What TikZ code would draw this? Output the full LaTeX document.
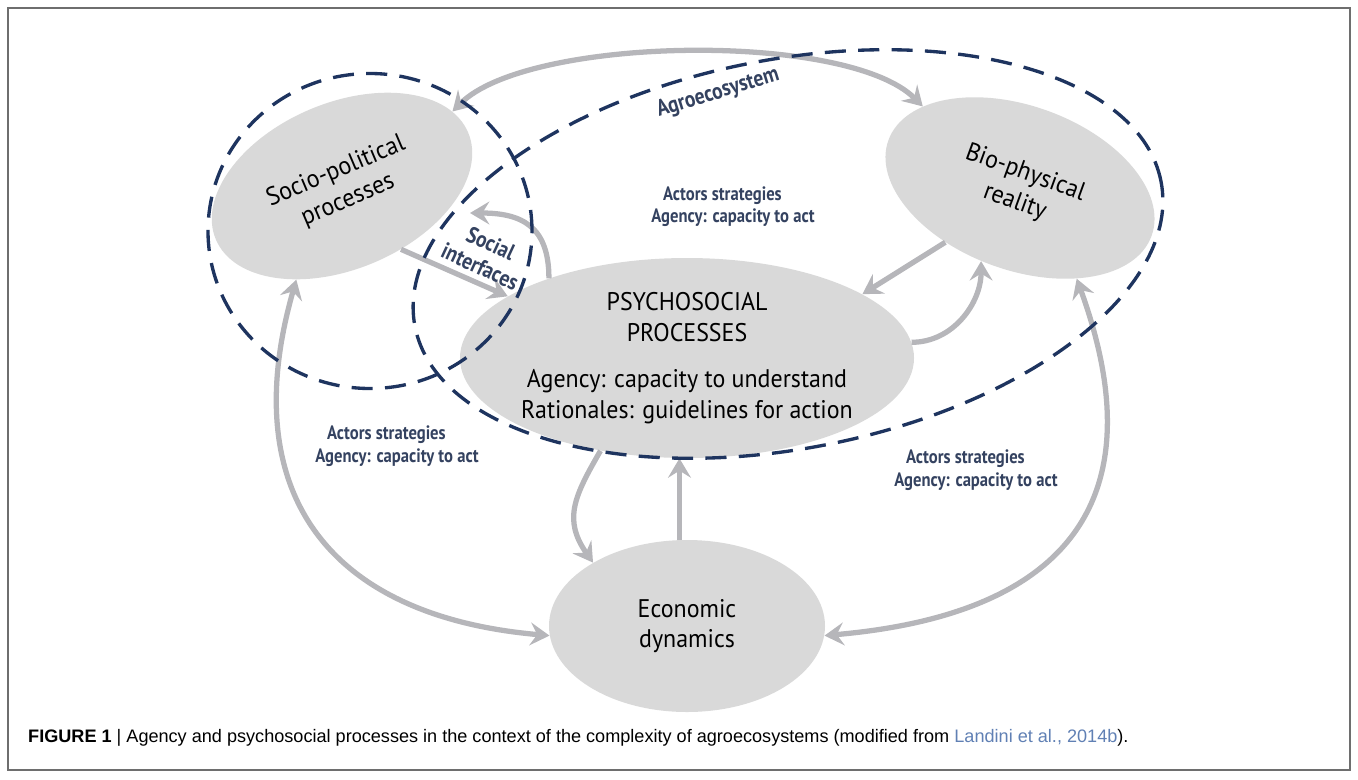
\documentclass[tikz,border=0pt]{standalone}
\usepackage{fontspec}
\setmainfont{Liberation Sans}
\newfontfamily\procfont[FakeStretch=0.94]{PT Sans}
\newfontfamily\notefont[FakeStretch=0.86]{PT Sans}
\newfontfamily\capfont{Liberation Sans}
\usetikzlibrary{arrows.meta,shapes.geometric}

\definecolor{areagray}{RGB}{217,217,217}
\definecolor{flowgray}{RGB}{182,182,186}
\definecolor{ringblue}{RGB}{30,52,95}
\definecolor{noteblue}{RGB}{52,66,96}
\definecolor{citeblue}{RGB}{96,128,180}
\definecolor{framegray}{RGB}{110,110,110}

\begin{document}
\begin{tikzpicture}[
        > = {Stealth[length=11pt, width=13pt, inset=4pt]}, % arrow head style
        node distance = 2cm, % distance between nodes
        auto
      ]

      \tikzstyle{proc}=[ellipse, fill=areagray, inner sep=0pt, align=center,
        font=\procfont\fontsize{14.5}{17.5}\selectfont]
      \tikzstyle{fence}=[ellipse, draw=ringblue, line width=1.9pt,
        dash pattern=on 12pt off 7pt]
      \tikzstyle{flow}=[->, draw=flowgray, line width=3pt]
      \tikzstyle{note}=[text=noteblue, align=center,
        font=\notefont\bfseries\fontsize{11}{12.8}\selectfont]

      \useasboundingbox (0,0) rectangle (27.16,-15.58);
      \draw[framegray, line width=0.6pt] (0.16,-0.16) rectangle (27.0,-15.4);

      % the four processes
      \node[proc, inner xsep=-3pt, minimum width=9cm, minimum height=4cm] (psy) at (13.74,-7.16)
        {PSYCHOSOCIAL\\PROCESSES\\[9pt]Agency: capacity to understand\\Rationales: guidelines for action};
      \node[proc, minimum width=5.52cm, minimum height=3.44cm] (econ) [below of=psy, node distance=5.36cm]
        {Economic\\dynamics};
      \node[proc, rotate=23, minimum width=5.48cm, minimum height=3.32cm] (socio) at (6.84,-3.72)
        {Socio-political\\processes};
      \node[proc, rotate=-20, minimum width=5.6cm, minimum height=3.28cm] (bio) at (20.4,-3.76)
        {Bio-physical\\reality};

      \coordinate (sitip) at (9.4,-4.26);

      % arrows
      \draw[flow, <->] (socio.11) to[out=45, in=135, looseness=0.58] (bio.160);
      \draw[flow] (socio.-70) -- (psy.161);
      \draw[flow] (psy.150) to[out=90, in=0, looseness=1.3] (sitip);
      \draw[flow] (bio.236) -- (psy.20);
      \draw[flow] (psy.4) to[out=0, in=-90] (bio.262);
      \draw[flow, <->] (econ.-4) to[out=5, in=-70, looseness=1.4] (bio.-38);
      \draw[flow, <->] (econ.184) to[out=175, in=-106, looseness=1.3] (socio.221);
      \draw[flow] (psy.227) to[out=240, in=125, looseness=1.2] (econ.146);
      \draw[flow] (econ.95) -- (econ.95 |- psy.south);

      % dashed boundaries
      \node[fence, minimum width=6.48cm, minimum height=6.3cm] (socring) at (7.4,-4.62) {};
      \node[fence, rotate=11, minimum width=15.2cm, minimum height=7.78cm] (agro) at (15.76,-5.08) {};

      % labels
      \node[note, rotate=17, font=\notefont\bfseries\fontsize{13}{15}\selectfont] (agrolabel) at (14.36,-1.86) {Agroecosystem};
      \node[note, rotate=-25, font=\notefont\bfseries\fontsize{13}{14.5}\selectfont] (social) at (9.71,-5.1) {Social\\interfaces};
      \node[note] (acttop) at (14.66,-4.13) {Actors strategies\hspace*{12pt}\\Agency: capacity to act};
      \node[note] (actleft) at (7.94,-8.92) {Actors strategies\hspace*{12pt}\\Agency: capacity to act};
      \node[note] (actright) at (19.52,-9.4) {Actors strategies\hspace*{12pt}\\Agency: capacity to act};

      \node[anchor=base west, font=\capfont\fontsize{10.3}{12}\selectfont] (caption) at (0.44,-14.84)
        {\textbf{FIGURE 1} | Agency and psychosocial processes in the context of the complexity of agroecosystems (modified from \textcolor{citeblue}{Landini et al., 2014b}).};

    \end{tikzpicture}
\end{document}
